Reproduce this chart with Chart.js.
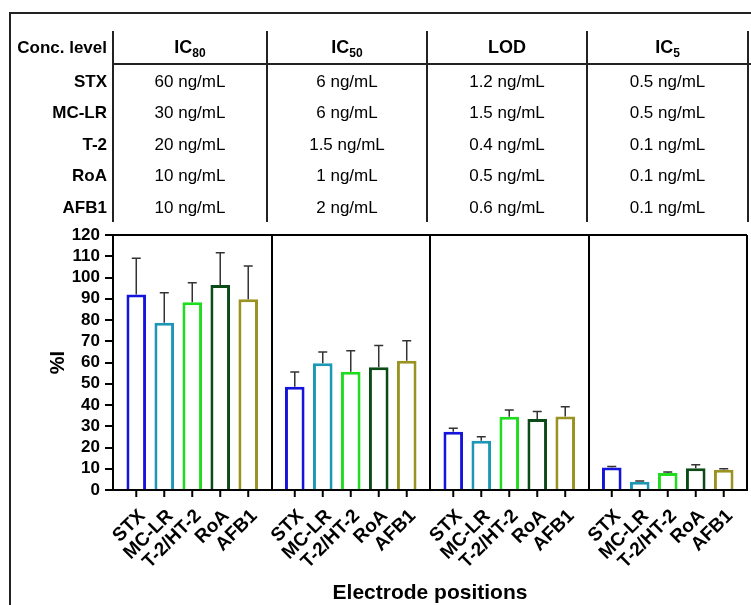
<!DOCTYPE html>
<html><head><meta charset="utf-8">
<script src="https://cdn.jsdelivr.net/npm/chart.js@4/dist/chart.umd.min.js"></script>
<style>
html,body{margin:0;padding:0;background:#fff;}
#wrap{position:relative;width:751px;height:605px;overflow:hidden;font-family:'Liberation Sans',Arial,sans-serif;color:#000;background:#fff;}
#c{position:absolute;left:0;top:0;}
.t{position:absolute;white-space:nowrap;font-size:17px;line-height:1;}
.b{font-weight:bold;}
.h{font-size:18px;}
.ln{position:absolute;background:#222;}
.t sub{font-size:12px;vertical-align:baseline;position:relative;top:4px;}
</style></head><body><div id="wrap"><canvas id="c" width="751" height="605"></canvas></div>
<script>
// ---- data ----
const groups = ['IC80', 'IC50', 'LOD', 'IC5'];
const headerMain = ['IC', 'IC', 'LOD', 'IC'];
const headerSub = ['80', '50', '', '5'];
const tableRows = ['STX', 'MC-LR', 'T-2', 'RoA', 'AFB1'];
const concIC80 = ['60 ng/mL', '30 ng/mL', '20 ng/mL', '10 ng/mL', '10 ng/mL'];
const concIC50 = ['6 ng/mL', '6 ng/mL', '1.5 ng/mL', '1 ng/mL', '2 ng/mL'];
const concLOD = ['1.2 ng/mL', '1.5 ng/mL', '0.4 ng/mL', '0.5 ng/mL', '0.6 ng/mL'];
const concIC5 = ['0.5 ng/mL', '0.5 ng/mL', '0.1 ng/mL', '0.1 ng/mL', '0.1 ng/mL'];
const toxins = ['STX', 'MC-LR', 'T-2/HT-2', 'RoA', 'AFB1'];
const stxVals = [92.0, 48.6, 27.4, 10.6];
const stxErr = [17.1, 6.9, 1.7, 0.5];
const mclrVals = [78.7, 59.7, 23.2, 3.9];
const mclrErr = [14.1, 5.2, 1.9, 0.3];
const t2Vals = [88.4, 55.6, 34.5, 8.0];
const t2Err = [9.1, 9.9, 3.1, 0.5];
const roaVals = [96.5, 57.8, 33.4, 10.2];
const roaErr = [15.2, 10.2, 3.6, 1.7];
const afb1Vals = [89.8, 60.8, 34.6, 9.5];
const afb1Err = [15.6, 9.4, 4.6, 0.5];
const yMin = 0, yMax = 120, yStep = 10;

// ---- styles ----
const FAM = "'Liberation Sans', Arial, sans-serif";
const barColors = ['#1414dc', '#1c98b6', '#1fdc1f', '#0c4a18', '#9a9322'];
const colLines = [113, 267, 427, 587, 748];
const rowY = [81, 112, 144, 175, 207];
const headerY = 47;

const wrap = document.getElementById('wrap');
function line(x, y, w, h) {
  const d = document.createElement('div'); d.className = 'ln';
  d.style.left = x + 'px'; d.style.top = y + 'px'; d.style.width = w + 'px'; d.style.height = h + 'px';
  wrap.appendChild(d);
}
function text(html, x, y, cls, align) {
  const d = document.createElement('div'); d.className = 't ' + cls;
  d.innerHTML = html;
  d.style.left = x + 'px'; d.style.top = y + 'px';
  d.style.transform = align === 'right' ? 'translate(-100%,-50%)' : 'translate(-50%,-50%)';
  wrap.appendChild(d);
}
// frame
line(9, 12, 742, 2);
line(9, 12, 2, 593);
// table lines
colLines.forEach(x => line(x - 1, 31, 1.8, 191));
line(113, 63, 638, 2);
// table text
text('Conc. level', 107, headerY, 'b', 'right');
headerMain.forEach((h, k) => {
  const cx = (colLines[k] + colLines[k + 1]) / 2;
  text(h + (headerSub[k] ? '<sub>' + headerSub[k] + '</sub>' : ''), cx, headerY, 'b h');
});
const concCols = [concIC80, concIC50, concLOD, concIC5];
tableRows.forEach((r, i) => {
  text(r, 107, rowY[i], 'b', 'right');
  concCols.forEach((col, k) => {
    const cx = (colLines[k] + colLines[k + 1]) / 2;
    text(col[i], cx, rowY[i], '');
  });
});

// ---- chart ----
const seriesVals = [stxVals, mclrVals, t2Vals, roaVals, afb1Vals];
const seriesErr = [stxErr, mclrErr, t2Err, roaErr, afb1Err];

const errorPlugin = {
  id: 'errBars',
  afterDatasetsDraw(chart) {
    const ctx = chart.ctx, y = chart.scales.y;
    chart.data.datasets.forEach((ds, i) => {
      const meta = chart.getDatasetMeta(i);
      meta.data.forEach((el, j) => {
        const top = y.getPixelForValue(ds.data[j] + ds.errors[j]);
        ctx.save();
        ctx.strokeStyle = '#333'; ctx.lineWidth = 1.5;
        ctx.beginPath();
        ctx.moveTo(el.x, el.y); ctx.lineTo(el.x, top);
        ctx.moveTo(el.x - 4.5, top); ctx.lineTo(el.x + 4.5, top);
        ctx.stroke();
        ctx.restore();
      });
    });
  }
};
const labelPlugin = {
  id: 'barLabels',
  afterDraw(chart) {
    const ctx = chart.ctx, bottom = chart.chartArea.bottom;
    chart.data.datasets.forEach((ds, i) => {
      const meta = chart.getDatasetMeta(i);
      meta.data.forEach((el) => {
        ctx.save();
        ctx.strokeStyle = '#000'; ctx.lineWidth = 2;
        ctx.beginPath(); ctx.moveTo(el.x, bottom); ctx.lineTo(el.x, bottom + 7); ctx.stroke();
        ctx.translate(el.x + 6, bottom + 23);
        ctx.rotate(-Math.PI / 4);
        ctx.font = 'bold 19px ' + FAM;
        ctx.fillStyle = '#000';
        ctx.textAlign = 'right'; ctx.textBaseline = 'middle';
        ctx.fillText(ds.label, 0, 0);
        ctx.restore();
      });
    });
  }
};

new Chart(document.getElementById('c'), {
  type: 'bar',
  data: {
    labels: groups,
    datasets: toxins.map((t, i) => ({
      label: t, data: seriesVals[i], errors: seriesErr[i],
      backgroundColor: '#ffffff', borderColor: barColors[i], borderWidth: 3, borderSkipped: 'bottom',
      categoryPercentage: 0.883, barPercentage: 0.70
    }))
  },
  options: {
    responsive: false, animation: false, devicePixelRatio: 1,
    layout: { padding: { top: 235, right: 4, left: 0, bottom: 0 } },
    plugins: { legend: { display: false }, tooltip: { enabled: false } },
    scales: {
      x: {
        grid: { offset: true, color: '#000', lineWidth: 2, drawTicks: false },
        border: { color: '#000', width: 2 },
        ticks: { display: false },
        title: { display: true, text: 'Electrode positions', color: '#000', font: { family: FAM, size: 21, weight: 'bold' }, padding: { top: 0, bottom: -1 } },
        afterFit(s) { s.height = 115; }
      },
      y: {
        min: yMin, max: yMax,
        ticks: { stepSize: yStep, autoSkip: false, color: '#000', font: { family: FAM, size: 17, weight: 'bold' }, padding: 5 },
        grid: {
          color: c => (c.tick && c.tick.value === yMax) ? '#000' : 'rgba(0,0,0,0)',
          lineWidth: 2, tickColor: '#000', tickLength: 8, tickWidth: 2
        },
        border: { color: '#000', width: 2 },
        title: { display: true, text: '%I', color: '#000', font: { family: FAM, size: 20, weight: 'bold' }, padding: { top: 46, bottom: 0 } },
        afterFit(s) { s.width = 113; }
      }
    }
  },
  plugins: [errorPlugin, labelPlugin]
});
</script></body></html>
